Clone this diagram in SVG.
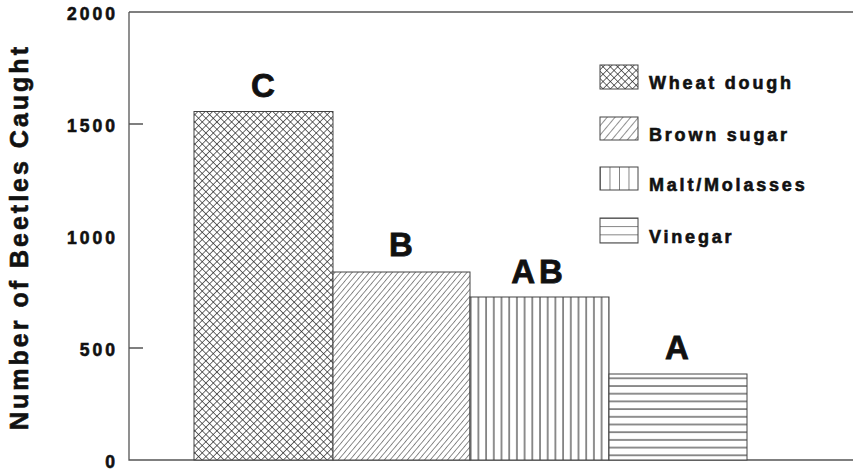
<svg xmlns="http://www.w3.org/2000/svg" width="853" height="471" viewBox="0 0 853 471">
<style>
  .t { font-family: "Liberation Sans", Arial, sans-serif; font-weight: bold; fill: #111; stroke: #111; stroke-width: 0.6; }
  .tick { font-size: 17.5px; letter-spacing: 3px; text-anchor: end; }
  .bl { font-size: 33px; letter-spacing: 4px; text-anchor: middle; stroke-width: 0.8; }
  .lg { font-size: 18px; letter-spacing: 2.8px; }
  .ax { stroke: #555; stroke-width: 1.3; fill: none; }
  .bar { stroke: #444; stroke-width: 1; }
</style>
<defs>
  <pattern id="pCross" width="5.2" height="5.2" patternUnits="userSpaceOnUse" patternTransform="rotate(45)">
    <rect width="5.2" height="5.2" fill="#fff"/>
    <path d="M0,0 H5.2 M0,0 V5.2" stroke="#222" stroke-width="1.3"/>
  </pattern>
  <pattern id="pDiag" width="4.4" height="4.4" patternUnits="userSpaceOnUse" patternTransform="rotate(40)">
    <rect width="4.4" height="4.4" fill="#fff"/>
    <path d="M0,0 V4.4" stroke="#333" stroke-width="1.1"/>
  </pattern>
  <pattern id="pVert" width="7.7" height="10" patternUnits="userSpaceOnUse">
    <rect width="7.7" height="10" fill="#fff"/>
    <path d="M1,0 V10" stroke="#333" stroke-width="1.1"/>
  </pattern>
  <pattern id="pHorz" width="10" height="7.7" patternUnits="userSpaceOnUse">
    <rect width="10" height="7.7" fill="#fff"/>
    <path d="M0,1 H10" stroke="#333" stroke-width="1.1"/>
  </pattern>
  <pattern id="lDiag" width="6" height="6" patternUnits="userSpaceOnUse" patternTransform="rotate(40)">
    <rect width="6" height="6" fill="#fff"/>
    <path d="M0,0 V6" stroke="#333" stroke-width="1.1"/>
  </pattern>
  <pattern id="lVert" width="9.5" height="10" patternUnits="userSpaceOnUse" x="600">
    <rect width="9.5" height="10" fill="#fff"/>
    <path d="M0,0 V10" stroke="#333" stroke-width="1.2"/>
  </pattern>
  <pattern id="lHorz" width="10" height="8.2" patternUnits="userSpaceOnUse" y="218">
    <rect width="10" height="8.2" fill="#fff"/>
    <path d="M0,0 H10" stroke="#333" stroke-width="1.2"/>
  </pattern>
</defs>
<rect width="853" height="471" fill="#fff"/>

<g id="axes">
  <path class="ax" d="M129,12 V460 H853"/>
  <path class="ax" d="M129,12 H853" stroke="#666"/>
  <path class="ax" d="M129,124 H143 M129,348 H143" stroke-width="1"/>
</g>

<g id="y-ticks">
  <text class="t tick" x="118" y="20">2000</text>
  <text class="t tick" x="118" y="132">1500</text>
  <text class="t tick" x="118" y="244">1000</text>
  <text class="t tick" x="118" y="356">500</text>
  <text class="t tick" x="118" y="468">0</text>
</g>

<g id="y-title">
  <text class="t" font-size="25" letter-spacing="3" text-anchor="middle" transform="translate(28,237) rotate(-90)">Number of Beetles Caught</text>
</g>

<g id="bar-wheat">
  <rect class="bar" x="194" y="111.5" width="139" height="348.5" fill="url(#pCross)"/>
  <text class="t bl" x="265" y="97">C</text>
</g>
<g id="bar-brown">
  <rect class="bar" x="333" y="272" width="137" height="188" fill="url(#pDiag)"/>
  <text class="t bl" x="403" y="256">B</text>
</g>
<g id="bar-malt">
  <rect class="bar" x="470" y="297" width="139" height="163" fill="url(#pVert)"/>
  <text class="t bl" x="539" y="283">AB</text>
</g>
<g id="bar-vinegar">
  <rect class="bar" x="609" y="374" width="138" height="86" fill="url(#pHorz)"/>
  <text class="t bl" x="679" y="359">A</text>
</g>

<g id="legend">
  <g id="leg-wheat">
    <rect class="bar" x="600" y="65" width="38" height="24" fill="url(#pCross)"/>
    <text class="t lg" x="649" y="89">Wheat dough</text>
  </g>
  <g id="leg-brown">
    <rect class="bar" x="600" y="117" width="38" height="23" fill="url(#lDiag)"/>
    <text class="t lg" x="649" y="141">Brown sugar</text>
  </g>
  <g id="leg-malt">
    <rect class="bar" x="600" y="167" width="38" height="23" fill="url(#lVert)"/>
    <text class="t lg" x="649" y="191">Malt/Molasses</text>
  </g>
  <g id="leg-vinegar">
    <rect class="bar" x="600" y="218" width="38" height="25" fill="url(#lHorz)"/>
    <text class="t lg" x="649" y="243">Vinegar</text>
  </g>
</g>
</svg>
